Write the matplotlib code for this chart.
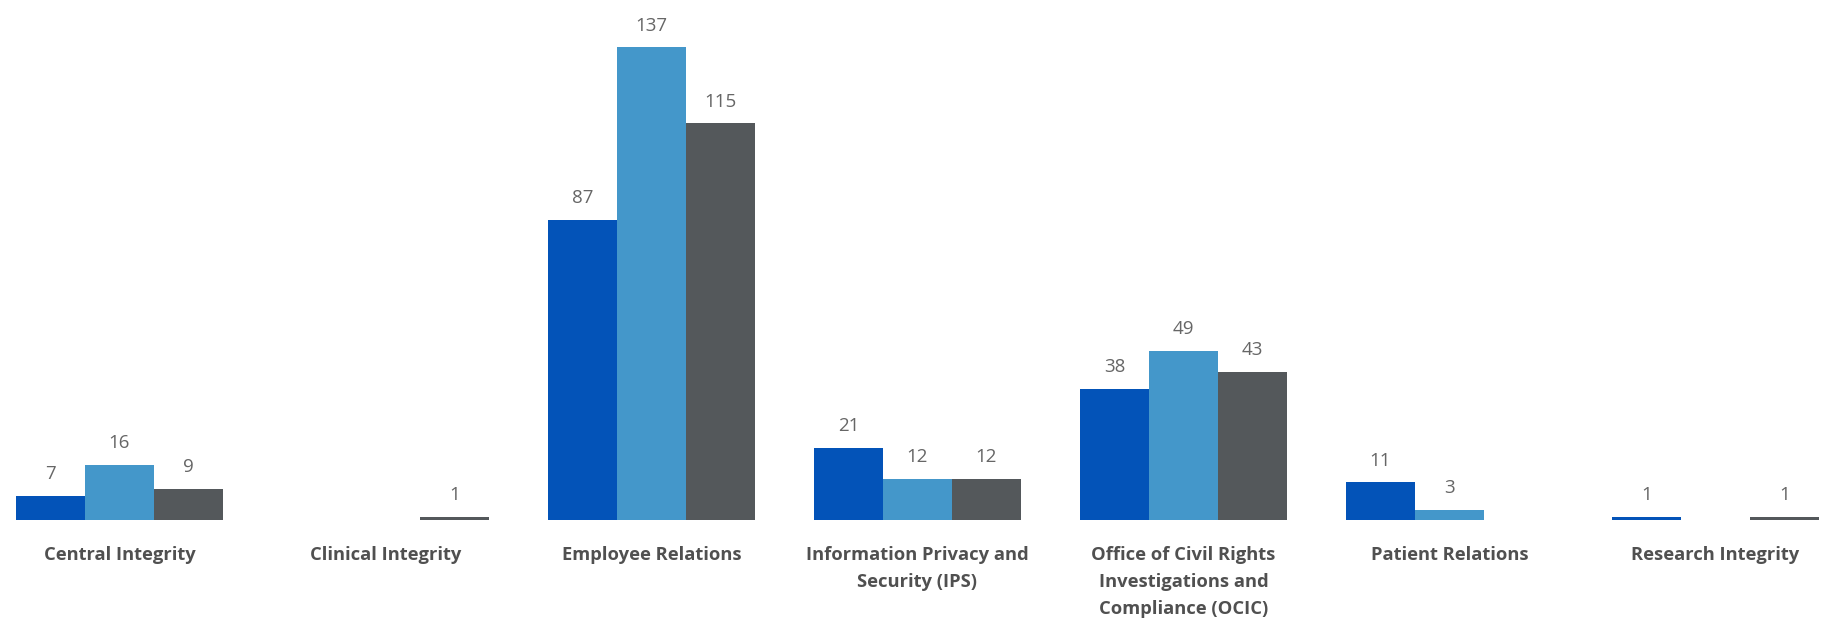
import matplotlib.pyplot as plt
import numpy as np

categories = ['Central Integrity', 'Clinical Integrity', 'Employee Relations',
              'Information Privacy and\nSecurity (IPS)',
              'Office of Civil Rights\nInvestigations and\nCompliance (OCIC)',
              'Patient Relations', 'Research Integrity']
series_1 = [7, np.nan, 87, 21, 38, 11, 1]
series_2 = [16, np.nan, 137, 12, 49, 3, np.nan]
series_3 = [9, 1, 115, 12, 43, np.nan, 1]
colors = ['#0353b8', '#4497ca', '#54585b']

fig = plt.figure(figsize=(18.29, 6.21), dpi=100)
ax = fig.add_axes([0, 101 / 621, 1, 520 / 621])

x = np.arange(len(categories))
w = 0.259
for k, vals in enumerate([series_1, series_2, series_3]):
    vals = np.array(vals, dtype=float)
    pos = x + (k - 1) * w
    ax.bar(pos, vals, width=w, color=colors[k], linewidth=0)
    for p, v in zip(pos, vals):
        if np.isnan(v):
            continue
        ax.annotate('%d' % v, (p, v), xytext=(0, 9), textcoords='offset points',
                    ha='center', va='bottom', fontsize=13.5, color='#666666',
                    family='Open Sans')

ax.set_xlim(-0.449, 6.427)
ax.set_ylim(0, 150.7)
ax.set_xticks(x)
ax.set_xticklabels(categories, fontsize=13.2, fontweight='bold', color='#505050',
                   family='Open Sans', linespacing=1.62, va='top')
ax.tick_params(axis='x', length=0, pad=19)
ax.set_yticks([])
for s in ax.spines.values():
    s.set_visible(False)

fig.savefig('out.png', dpi=100)
